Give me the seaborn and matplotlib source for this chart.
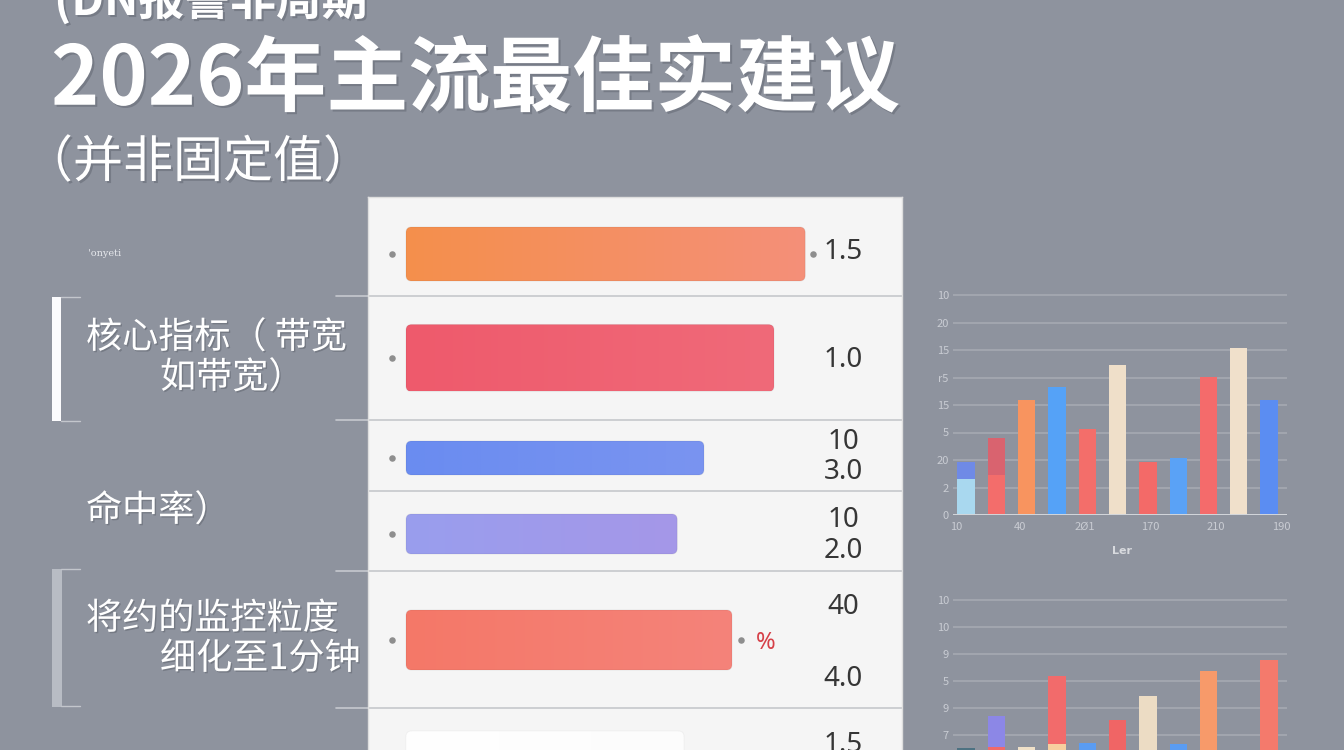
import numpy as np
import matplotlib
matplotlib.use("Agg")
import matplotlib.pyplot as plt
import seaborn as sns
from matplotlib.patches import FancyBboxPatch, Rectangle
import matplotlib.patheffects as pe
from matplotlib.colors import to_rgb

# ---------------- data ----------------
title_top = "(DN报警非周期"
title_main = "2026年主流最佳实建议"
title_sub = "（并非固定值）"
tiny_note = "'onyeti"

left_label_lines = ["核心指标（ 带宽", "如带宽）", "命中率）", "将约的监控粒度", "细化至1分钟"]

row_names = ["r1", "r2", "r3", "r4", "r5", "r6"]
bar_values = [99.8, 92.0, 74.5, 67.8, 81.5, 69.5]
value_labels = [["1.5"], ["1.0"], ["10", "3.0"], ["10", "2.0"], ["40", "4.0"], ["1.5"]]
percent_label = "%"

mini_cats = ["c1", "c2", "c3", "c4", "c5", "c6", "c7", "c8", "c9", "c10", "c11"]
mini_a_total = [1.93, 2.80, 4.18, 4.65, 3.13, 5.45, 1.93, 2.07, 5.02, 6.07, 4.18]
mini_a_lower = [1.31, 1.45, 0, 0, 0, 0, 0, 0, 0, 0, 0]
mini_a_yticklabels = ["0", "2", "20", "5", "15", "r5", "15", "20", "10"]
mini_a_xticklabels = ["10", "40", "2Ø1", "170", "210", "190"]
mini_a_xlabel = "Ler"

mini_b_total = [0.52, 1.70, 0.55, 3.20, 0.70, 1.55, 2.45, 0.67, 3.37, 0.0, 3.78]
mini_b_lower = [0, 0.55, 0, 0.67, 0, 0, 0, 0, 0, 0, 0]
mini_b_yticklabels = ["7", "9", "5", "9", "10", "10"]

# ---------------- styles / layout ----------------
BG = "#8e939e"
PANEL = "#f5f5f5"
bar_left_colors = ["#f5904c", "#ee5a6c", "#6a8cf0", "#999eee", "#f47868", "#ffffff"]
bar_right_colors = ["#f48f79", "#f06a79", "#7a94f0", "#a597e8", "#f5837a", "#fcfcfc"]
row_centers = [254, 358, 458, 534, 640, 751]
row_heights = [54, 67, 34, 40, 60, 40]
separators = [296, 420, 491, 571, 708]
label_y = [[252], [360], [442, 472], [520, 551], [607, 679], [745]]

mini_a_top_colors = ["#6f8ae6", "#d9636f", "#f8945f", "#55a2f7", "#f36e6a", "#efdfc9",
                     "#f36a68", "#5aa2f6", "#f46b6b", "#f0e0cb", "#5b8df2"]
mini_a_low_colors = ["#a9d8ef", "#f36d6b"] + ["#000000"] * 9
mini_b_top_colors = ["#4d7282", "#8c87e6", "#efe0c8", "#f26b6b", "#5a9cf2", "#f06565",
                     "#ecdcc4", "#5a9cf2", "#f79a6a", "#f0e0cb", "#f47a6c"]
mini_b_low_colors = ["#000000", "#f06a6a", "#000000", "#f7cf9f"] + ["#000000"] * 7

W, H = 1344, 750

sns.set_theme(style="white")
plt.rcParams['font.family'] = ['Noto Sans CJK SC', 'DejaVu Sans']

fig = plt.figure(figsize=(13.44, 7.5), dpi=100)
fig.patch.set_facecolor(BG)

def fx(px):
    return px / W

def fy(py):
    return 1 - py / H

# ---------------- background overlay (pixel coords) ----------------
bg = fig.add_axes([0, 0, 1, 1], zorder=0)
bg.set_xlim(0, W)
bg.set_ylim(H, 0)
bg.axis("off")

shadow = [pe.SimplePatchShadow(offset=(1.5, -1.5), shadow_rgbFace="#4a4f5a", alpha=0.35), pe.Normal()]
bg.text(54, 15, title_top, fontsize=33, fontweight="bold", color="white", ha="left", va="baseline",
        path_effects=shadow)
bg.text(51, 81, title_main, fontsize=59, fontweight="bold", color="white", ha="left", va="center",
        path_effects=shadow)
bg.text(23, 163, title_sub, fontsize=36, color="white", ha="left", va="center", path_effects=shadow)
bg.text(88, 253, tiny_note, fontsize=7, color="#e6e8ec", ha="left", va="center", family=["DejaVu Serif"])

lbl_pos = [(86, 338), (160, 378), (86, 511), (86, 619), (160, 659)]
for txt, (x, y) in zip(left_label_lines, lbl_pos):
    bg.text(x, y, txt, fontsize=26, color="white", ha="left", va="center",
            path_effects=[pe.SimplePatchShadow(offset=(1, -1), shadow_rgbFace="#50555f", alpha=0.4), pe.Normal()])

# brackets
bg.add_patch(Rectangle((52, 297), 9, 124, facecolor="#fbfbfd", edgecolor="none"))
bg.add_patch(Rectangle((52, 569), 10, 138, facecolor="#b8bcc4", edgecolor="none"))
for y in (297, 421, 569, 706):
    bg.plot([61, 80], [y, y], color="#c3c6cc", lw=1)
for y in (296, 420, 571, 708):
    bg.plot([336, 368], [y, y], color="#c6c9cf", lw=1.2)

# ---------------- main panel ----------------
ax = fig.add_axes([fx(368), 0, fx(902) - fx(368), fy(197)], zorder=2)
sns.barplot(x=bar_values, y=row_names, hue=row_names, palette=bar_right_colors, orient="h",
            legend=False, saturation=1, ax=ax)
ax.set_facecolor(PANEL)
for s in ax.spines.values():
    s.set_color("#dedede")
    s.set_linewidth(1)
ax.spines["bottom"].set_visible(False)

for p in list(ax.patches):
    idx = int(round(p.get_y() + p.get_height() / 2))
    rc, h = row_centers[idx], row_heights[idx]
    x0, w = p.get_x(), p.get_width()
    p.set_y(rc - h / 2)
    p.set_height(h)
    p.set_visible(False)
    box = FancyBboxPatch((x0, rc - h / 2), w, h, boxstyle="round,pad=0,rounding_size=1.4",
                         mutation_aspect=4, facecolor="none",
                         edgecolor=(0, 0, 0, 0.06 if idx < 5 else 0.03), lw=0.8, zorder=4)
    ax.add_patch(box)
    c0, c1 = np.array(to_rgb(bar_left_colors[idx])), np.array(to_rgb(bar_right_colors[idx]))
    t = np.linspace(0, 1, 256)[None, :, None]
    grad = c0[None, None, :] * (1 - t) + c1[None, None, :] * t
    im = ax.imshow(grad, extent=[x0, x0 + w, rc + h / 2, rc - h / 2], aspect="auto", zorder=3,
                   interpolation="bilinear")
    im.set_clip_path(box)

for y in separators:
    ax.axhline(y, color="#c9cbcf", lw=1.3, zorder=1)

# dots
ax.scatter([-3.5] * len(row_centers[:5]), row_centers[:5], s=22, color="#8e8e8e", zorder=5, linewidths=0)
ax.scatter([bar_values[0] + 2.0, bar_values[4] + 2.3], [row_centers[0], row_centers[4]], s=22,
           color="#8e8e8e", zorder=5, linewidths=0)

for labs, ys in zip(value_labels, label_y):
    for lab, y in zip(labs, ys):
        ax.text(109.3, y, lab, fontsize=20, color="#363636", ha="center", va="center",
                family=["Noto Sans"], zorder=6)
ax.text(bar_values[4] + 8.3, 643, percent_label, fontsize=17, color="#d64048", ha="center",
        va="center", family=["Noto Sans"], zorder=6)

ax.set_xlim(-9.5, 124)
ax.set_ylim(750, 197)
ax.set_xticks([])
ax.set_yticks([])
ax.set_xlabel("")
ax.set_ylabel("")

# ---------------- mini charts ----------------
def mini_chart(axm, total, lower, top_cols, low_cols):
    sns.barplot(x=mini_cats, y=total, hue=mini_cats, palette=top_cols, legend=False,
                saturation=1, width=0.57, ax=axm, zorder=3, edgecolor="none", linewidth=0)
    sns.barplot(x=mini_cats, y=lower, hue=mini_cats, palette=low_cols, legend=False,
                saturation=1, width=0.57, ax=axm, zorder=3, edgecolor="none", linewidth=0)
    axm.set_facecolor("none")
    for s in axm.spines.values():
        s.set_visible(False)
    axm.yaxis.grid(True, color="#a7abb4", lw=1.1)
    axm.set_axisbelow(True)
    axm.tick_params(axis="y", length=0, pad=3, labelsize=8, labelcolor="#c9ccd3")
    axm.set_xlim(-0.43, 10.59)
    axm.set_ylabel("")

axa = fig.add_axes([fx(953), fy(515), fx(1287) - fx(953), (515 - 290) / H], zorder=2)
mini_chart(axa, mini_a_total, mini_a_lower, mini_a_top_colors, mini_a_low_colors)
axa.set_yticks(range(len(mini_a_yticklabels)))
axa.set_yticklabels(mini_a_yticklabels)
axa.set_ylim(0, 225 / 27.5)
axa.axhline(0, color="#d3d6db", lw=1.4, zorder=4)
axa.set_xticks([-0.33, 1.78, 3.93, 6.07, 8.25, 10.4])
axa.set_xticklabels(mini_a_xticklabels)
axa.tick_params(axis="x", length=0, pad=5, labelsize=8, labelcolor="#c9ccd3")
axa.set_xlabel(mini_a_xlabel, fontsize=8, color="#d8dade", fontweight="bold",
               family=["DejaVu Sans"])
axa.xaxis.set_label_coords((1122 - 953) / (1287 - 953), -(546 - 515) / 225)

axb = fig.add_axes([fx(953), fy(762), fx(1287) - fx(953), (762 - 590) / H], zorder=2)
mini_chart(axb, mini_b_total, mini_b_lower, mini_b_top_colors, mini_b_low_colors)
axb.set_yticks(range(1, len(mini_b_yticklabels) + 1))
axb.set_yticklabels(mini_b_yticklabels)
axb.set_ylim(0, 172 / 27.0)
axb.set_xticks([])
axb.set_xlabel("")

fig.savefig("out.png", dpi=100, facecolor=BG)
